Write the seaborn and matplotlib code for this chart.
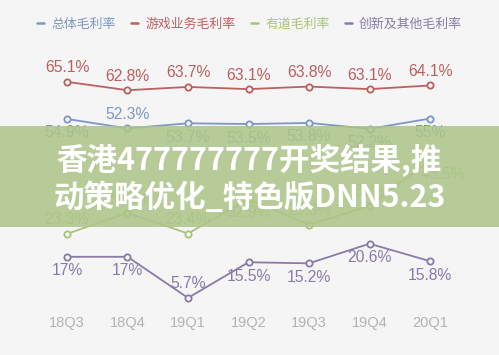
import matplotlib
matplotlib.use("Agg")
import matplotlib.pyplot as plt
import seaborn as sns
import pandas as pd
from matplotlib.lines import Line2D
from matplotlib.patches import Rectangle

quarters = ["18Q3", "18Q4", "19Q1", "19Q2", "19Q3", "19Q4", "20Q1"]
series_names = ["总体毛利率", "游戏业务毛利率", "有道毛利率", "创新及其他毛利率"]
total = [54.9, 52.3, 53.7, 53.5, 53.8, 52.2, 55.0]
games = [65.1, 62.8, 63.7, 63.1, 63.8, 63.1, 64.1]
youdao = [23.3, 29.1, 23.4, 32.9, 25.8, 31.0, 43.5]
innov = [17.0, 17.0, 5.7, 15.5, 15.2, 20.6, 15.8]
values = [total, games, youdao, innov]

colors = ["#7d97c6", "#bc5f5f", "#a8c47a", "#8a7aaa"]
# label placement: +1 above point, -1 below point
place = [
    [-1, 1, -1, -1, -1, -1, -1],
    [1, 1, 1, 1, 1, 1, 1],
    [1, 1, 1, -1, 1, 1, -1],
    [-1, -1, 1, -1, -1, -1, -1],
]

sns.set_theme(style="white")
plt.rcParams["font.family"] = ["Liberation Sans", "Noto Sans CJK SC", "DejaVu Sans"]

rows = []
for name, vals in zip(series_names, values):
    for q, v in zip(quarters, vals):
        rows.append({"季度": q, "毛利率": v, "系列": name})
df = pd.DataFrame(rows)

W, H = 499, 355
fig = plt.figure(figsize=(W / 100, H / 100), dpi=100, facecolor="#f5f5f5")
ax = fig.add_axes([0, 0, 1, 1])
ax.set_facecolor("#f5f5f5")

sns.lineplot(data=df, x="季度", y="毛利率", hue="系列", palette=colors,
             hue_order=series_names, marker="o", markersize=4.5,
             linewidth=1.3, sort=False, ax=ax, legend=False)
for line, c in zip(ax.lines, colors):
    line.set_markerfacecolor("#f5f5f5")
    line.set_markeredgecolor(c)
    line.set_markeredgewidth(1.3)

# pixel mapping
ax.set_xlim(-1.107, 7.14)
ax.set_ylim(-10.0, 87.6)
ax.axis("off")

for si, vals in enumerate(values):
    for i, v in enumerate(vals):
        dy = 14 * place[si][i]
        dx = 0
        if si == 2 and i == 6:
            dx = 13
        txt = f"{v:g}%"
        ax.annotate(txt, (i, v), xytext=(dx, dy), textcoords="offset pixels",
                    ha="center", va="center", fontsize=11.3,
                    color=colors[si], family="Liberation Sans")

for i, q in enumerate(quarters):
    ax.text(i, -1.2, q, ha="center", va="center", fontsize=10.5,
            color="#b3b3b3", family="Liberation Sans")

handles = [Line2D([0], [0], color=c, lw=1.8) for c in colors]
leg = fig.legend(handles, series_names, loc="center", bbox_to_anchor=(0.5, 1 - 24 / H),
                 ncol=4, frameon=False, handlelength=0.55, handletextpad=0.55,
                 columnspacing=1.2, prop={"family": "Noto Sans CJK SC", "size": 9.3})
for t, c in zip(leg.get_texts(), colors):
    t.set_color(c)

# overlay banner
fig.add_artist(Rectangle((0, 1 - 227 / H), 1, 101 / H, transform=fig.transFigure,
                         facecolor="#adc489", alpha=0.86, edgecolor="none", zorder=10))
banner_font = ["Noto Sans CJK SC", "DejaVu Sans"]
fig.text(249 / W, 1 - 160 / H, "香港477777777开奖结果,推", ha="center", va="center",
         fontsize=22, fontweight="bold", color="white", family=banner_font, zorder=11)
fig.text(250 / W, 1 - 198 / H, "动策略优化_特色版DNN5.23", ha="center", va="center",
         fontsize=22, fontweight="bold", color="white", family=banner_font, zorder=11)

fig.savefig("out.png", dpi=100, facecolor=fig.get_facecolor())
